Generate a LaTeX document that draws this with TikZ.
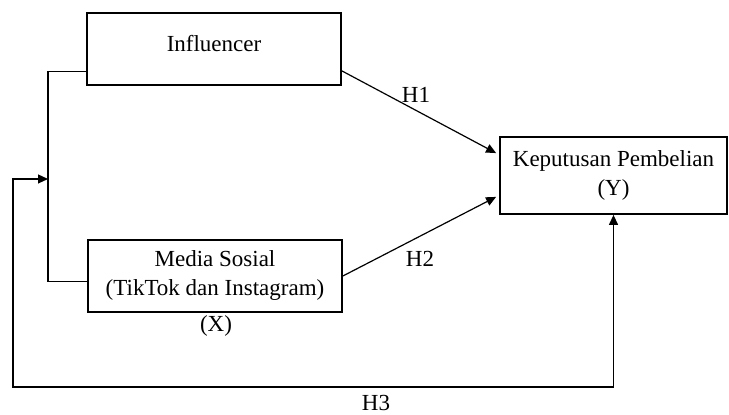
\documentclass[tikz,border=0pt]{standalone}
\usepackage{fontspec}
\setmainfont{Liberation Serif}
\usetikzlibrary{arrows.meta,calc}
\tikzset{
  box/.style={draw, line width=0.9pt, minimum width=127pt, minimum height=36pt, align=center, inner sep=0pt},
  arr/.style={-{Triangle[length=5pt,width=4.5pt]}, line width=0.6pt},
  twoarr/.style={{Triangle[length=5pt,width=4.5pt]}-{Triangle[length=5pt,width=4.5pt]}, line width=0.6pt},
}
\begin{document}
\begin{tikzpicture}[x=0.5pt, y=-0.5pt, every node/.style={font=\fontsize{11.5pt}{14.5pt}\selectfont}]
	\useasboundingbox (0,0) rectangle (729,415);
	% variables
	\node[box, text depth=6pt] (infl) at (214,49) {Influencer};
	\node[box] (media) at (215,276) {Media Sosial\\(TikTok dan Instagram)};
	\node[box, minimum width=113.5pt, minimum height=38.5pt] (keput) at (613.5,175.5) {Keputusan Pembelian\\(Y)};
	\node (lx) at (216,326) {(X)};
	% bracket and H3 path
	\coordinate (jn) at (48,179);
	\coordinate (h3) at (13,387);
	\draw[line width=0.6pt] ($(infl.south west)+(0,-14)$) -| (jn) |- ($(media.south west)+(0,-31)$);
	\draw[twoarr] (jn) -| (h3) -| (keput.south);
	% hypotheses
	\draw[arr] ($(infl.south east)+(0,-15)$) -- ($(keput.north west)+(-3,17)$);
	\draw[arr] (media.east) -- ($(keput.south west)+(-3,-18)$);
	\node (h1) at (416,95) {H1};
	\node (h2) at (420,259) {H2};
	\node (lh3) at (376,403) {H3};
\end{tikzpicture}
\end{document}
